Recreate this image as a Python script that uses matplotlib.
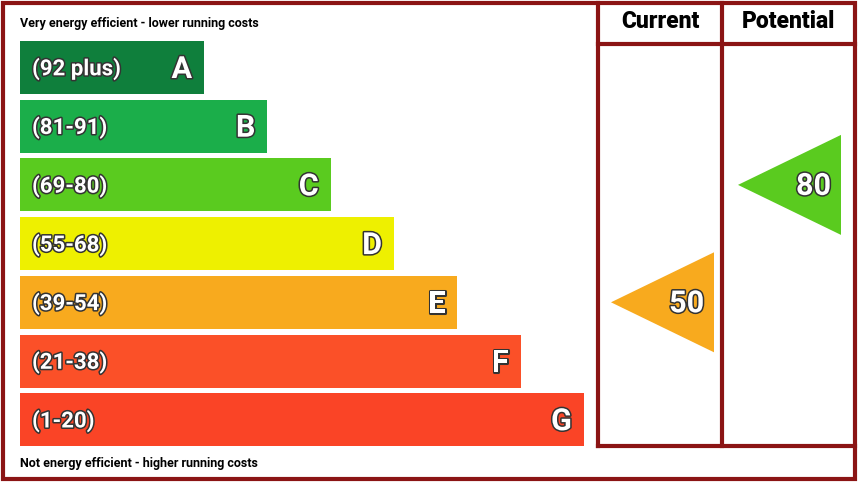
import matplotlib.pyplot as plt
from matplotlib.patches import Rectangle, Polygon
import matplotlib.patheffects as pe

bands = ['A', 'B', 'C', 'D', 'E', 'F', 'G']
ranges = ['(92 plus)', '(81-91)', '(69-80)', '(55-68)', '(39-54)', '(21-38)', '(1-20)']
lows = [92, 81, 69, 55, 39, 21, 1]
colors = ['#0f7f3c', '#1bae4a', '#5acb1f', '#eef000', '#f8aa1e', '#fb5028', '#fa4426']
current = 50
potential = 80

border = '#8b1414'
outline = [pe.withStroke(linewidth=2.2, foreground='#333333')]

fig = plt.figure(figsize=(8.6, 4.84), dpi=100)
ax = fig.add_axes([0, 0, 1, 1])
ax.set_xlim(0, 860)
ax.set_ylim(484, 0)
ax.axis('off')


def band_of(score):
    for i, lo in enumerate(lows):
        if score >= lo:
            return i
    return len(lows) - 1


for i, (b, r, c) in enumerate(zip(bands, ranges, colors)):
    top = 41 + i * 58.7
    w = 184 + i * 63.3
    ax.add_patch(Rectangle((20, top), w, 53, color=c, lw=0))
    ax.text(32, top + 28, r, fontsize=16, fontweight='bold', color='white',
            va='center', ha='left', family='Roboto', path_effects=outline)
    ax.text(20 + w - 12, top + 28, b, fontsize=22, fontweight='bold', color='white',
            va='center', ha='right', family='Roboto', path_effects=outline)

# frame
ax.add_patch(Rectangle((3, 3), 852, 476, fill=False, ec=border, lw=3))
for x in [598, 722]:
    ax.plot([x, x], [3, 446], color=border, lw=3)
ax.plot([598, 855], [44, 44], color=border, lw=3)
ax.plot([598, 855], [446, 446], color=border, lw=3)
ax.text(660, 22, 'Current', fontsize=16.5, fontweight='heavy', ha='center', va='center', family='Roboto')
ax.text(788, 22, 'Potential', fontsize=16.5, fontweight='heavy', ha='center', va='center', family='Roboto')
ax.text(20, 23, 'Very energy efficient - lower running costs', fontsize=9, fontweight='bold',
        va='center', family='Roboto')
ax.text(20, 463, 'Not energy efficient - higher running costs', fontsize=9, fontweight='bold',
        va='center', family='Roboto')

# arrows
for score, x0 in [(current, 611), (potential, 738)]:
    i = band_of(score)
    cy = 41 + i * 58.7 + 26.5
    ax.add_patch(Polygon([(x0, cy), (x0 + 103, cy - 50), (x0 + 103, cy + 50)],
                         color=colors[i], lw=0))
    ax.text(x0 + 93, cy + 1, str(score), fontsize=22, fontweight='bold', color='white',
            ha='right', va='center', family='Roboto', path_effects=outline)

fig.savefig('out.png', dpi=100)
